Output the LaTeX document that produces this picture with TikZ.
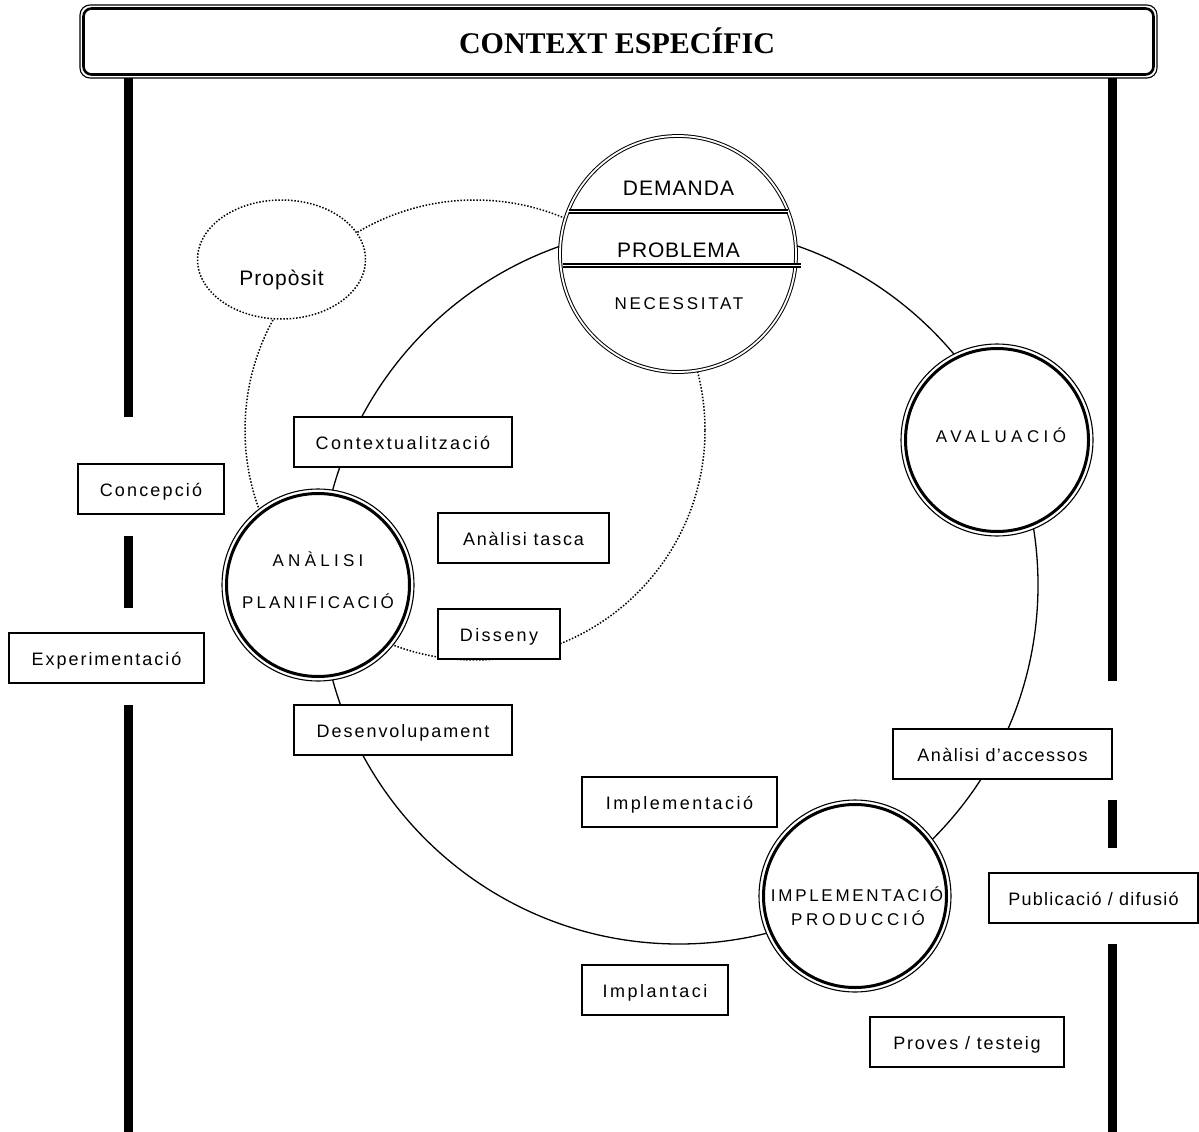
\documentclass[tikz,border=0pt]{standalone}
\usepackage{fontspec}
\setmainfont{Liberation Sans}
\newfontfamily\titlef{Liberation Serif}
\newfontfamily\labf{Liberation Sans}
\newcommand\ls[1]{\addfontfeature{LetterSpace=#1}}
\usetikzlibrary{shapes.geometric}
\begin{document}
\begin{tikzpicture}[x=1pt,y=-1pt,
  bx/.style={draw, line width=1.7pt, fill=white, rectangle, inner sep=0pt,
    minimum height=50pt, text height=16pt, text depth=2pt,
    font={\labf\fontsize{18}{21}\selectfont}},
  ringn/.style={circle, draw, line width=1.1pt, fill=white, inner sep=0pt, minimum size=192pt},
  thickring/.style={line width=3pt},
  ctxt/.style={anchor=base, inner sep=0pt, font={\labf\fontsize{17}{20}\selectfont}},
  btxt/.style={anchor=base, inner sep=0pt, font={\labf\fontsize{21}{24}\selectfont}},
  dotln/.style={line width=1.5pt, dash pattern=on 1.5pt off 1.7pt},
  barln/.style={line width=8.5pt},
  ringln/.style={line width=1.3pt},
  dblbar/.style={line width=1.7pt, double, double distance=1pt}]
\useasboundingbox (0,0) rectangle (1199,1132);

% the two rings of the cycle
\coordinate (bigc) at (679,585);
\coordinate (dotc) at (475,430);
\draw[ringln] (bigc) circle[radius=359pt];
\draw[dotln] (dotc) circle[radius=230pt];

% title box
\node[draw, line width=1.1pt, rounded corners=10pt, minimum width=1077pt,
  minimum height=73pt, inner sep=0pt] (ttl) at (618.5,41.5) {};
\draw[line width=2.6pt, rounded corners=8pt] (83.5,8.5) rectangle (1153.5,74.5);
\node[anchor=base, inner sep=0pt, font={\titlef\bfseries\fontsize{30}{36}\selectfont}]
  (ttlt) at (617,54) {CONTEXT ESPECÍFIC};

% vertical bars
\coordinate (l1a) at (128.5,78);   \coordinate (l1b) at (128.5,417);
\coordinate (l2a) at (128.5,536);  \coordinate (l2b) at (128.5,608);
\coordinate (l3a) at (128.5,705);  \coordinate (l3b) at (128.5,1132);
\coordinate (r1a) at (1112.5,78);  \coordinate (r1b) at (1112.5,681);
\coordinate (r2a) at (1112.5,800); \coordinate (r2b) at (1112.5,848);
\coordinate (r3a) at (1112.5,944); \coordinate (r3b) at (1112.5,1132);
\draw[barln] (l1a) -- (l1b);
\draw[barln] (l2a) -- (l2b);
\draw[barln] (l3a) -- (l3b);
\draw[barln] (r1a) -- (r1b);
\draw[barln] (r2a) -- (r2b);
\draw[barln] (r3a) -- (r3b);

% DEMANDA / PROBLEMA / NECESSITAT
\node[circle, draw, double, double distance=1.8pt, line width=1pt, fill=white,
  inner sep=0pt, minimum size=236pt] (dem) at (678,254) {};
\coordinate (d1a) at (569,211.5); \coordinate (d1b) at (788,211.5);
\coordinate (d2a) at (563,265.5); \coordinate (d2b) at (801,265.5);
\draw[dblbar] (d1a) -- (d1b);
\draw[dblbar] (d2a) -- (d2b);
\node[btxt] (demt) at (678.5,195) {\ls{5}DEMANDA};
\node[btxt] (prot) at (678.5,257) {\ls{4}PROBLEMA};
\node[ctxt] (nect) at (679,309) {\ls{16}NECESSITAT};

% Proposit
\node[ellipse, draw, dotln, fill=white, inner sep=0pt, minimum width=168pt,
  minimum height=119pt] (prop) at (281.5,259.5) {};
\node[btxt] (propt) at (281.5,285) {\ls{5}Propòsit};

% AVALUACIO
\node[ringn] (ava) at (997,440) {};
\draw[thickring] (ava.center) circle[radius=91.5pt];
\node[ctxt] (avat) at (1001,442) {\ls{26}AVALUACIÓ};

% ANALISI
\node[ringn] (ana) at (318,585) {};
\draw[thickring] (ana.center) circle[radius=91.5pt];
\node[ctxt] (anat1) at (318,566) {\ls{25}ANÀLISI};
\node[ctxt] (anat2) at (318,608) {\ls{18}PLANIFICACIÓ};

% IMPLEMENTACIO
\node[ringn] (imp) at (855,896) {};
\draw[thickring] (imp.center) circle[radius=91.5pt];
\node[ctxt] (impt1) at (857,901) {\ls{16}IMPLEMENTACIÓ};
\node[ctxt] (impt2) at (858,925) {\ls{22}PRODUCCIÓ};

% boxes
\node[bx, minimum width=218pt] (ctx) at (403,442) {\ls{13}Contextualització};
\node[bx, minimum width=146pt] (con) at (151,489) {\ls{12}Concepció};
\node[bx, minimum width=171pt] (tas) at (523.5,538) {\ls{10}Anàlisi tasca};
\node[bx, minimum width=122pt] (dis) at (499,634) {\ls{13}Disseny};
\node[bx, minimum width=195pt] (exp) at (106.5,658) {\ls{11}Experimentació};
\node[bx, minimum width=218pt] (des) at (403,730) {\ls{11}Desenvolupament};
\node[bx, minimum width=219pt] (acc) at (1002.5,754) {\ls{8}Anàlisi d’accessos};
\node[bx, minimum width=195pt] (imb) at (679.5,802) {\ls{14}Implementació};
\node[bx, minimum width=209pt] (pub) at (1093.5,898) {\ls{7}Publicació / difusió};
\node[bx, minimum width=146pt] (ipl) at (655,990) {\ls{14}Implantaci};
\node[bx, minimum width=194pt] (prv) at (967,1042) {\ls{10}Proves / testeig};
\end{tikzpicture}
\end{document}
